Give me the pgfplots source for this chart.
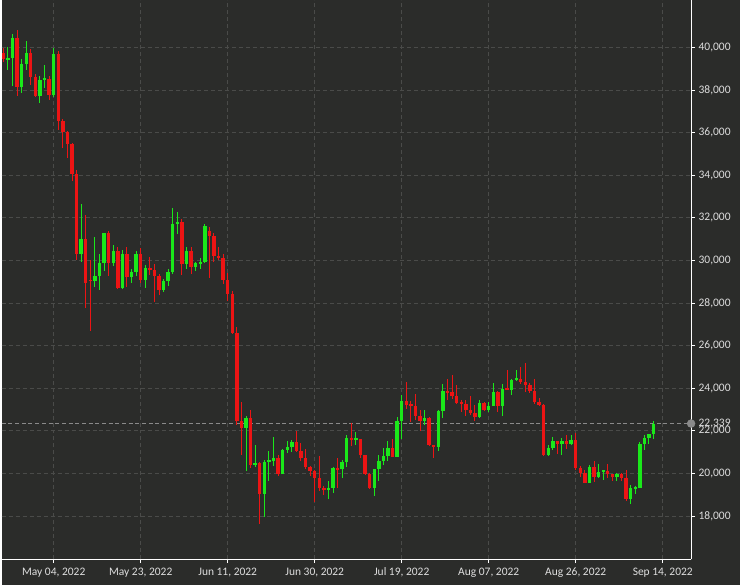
\documentclass[border=0pt]{standalone}
\usepackage{pgfplots}
\pgfplotsset{compat=1.18}
\usepackage{pgfplotstable}
\usetikzlibrary{backgrounds,calc}
\usepackage{fontspec}
\setmainfont{Carlito}
\definecolor{bg}{RGB}{43,44,42}
\definecolor{grd}{RGB}{74,75,73}
\definecolor{up}{RGB}{26,232,26}
\definecolor{dn}{RGB}{236,20,20}
\definecolor{lbl}{RGB}{222,222,222}
\definecolor{cur}{RGB}{138,138,138}

\pgfplotstableread{
i o h l c
0 39740 39980 39310 39450
1 39450 40010 38950 39480
2 39480 40620 38200 40430
3 40430 40800 37700 38120
4 38120 39450 37880 39240
5 39240 40320 38940 39740
6 39740 39900 38210 38600
7 38600 38750 37650 37710
8 37710 38650 37400 38470
9 38470 39150 38080 38530
10 38530 38640 37550 37750
11 37750 39970 37680 39690
12 39690 39850 36100 36550
13 36550 36620 35260 36010
14 36010 36080 34790 35470
15 35470 35490 33720 34060
16 34060 34240 30030 30300
17 30300 32650 29920 31020
18 31020 32150 27780 28940
19 29080 30030 26700 29030
20 29030 31080 28750 29280
21 29280 30300 28630 29860
22 29860 31300 29490 31300
23 31300 31400 29250 29860
24 29860 30720 29740 30420
25 30420 30620 28650 28720
26 28720 30490 28650 30290
27 30290 30620 28730 29200
28 29200 29590 28950 29430
29 29430 30420 29260 30320
30 30320 30590 28960 29100
31 29100 29760 28680 29650
32 29650 30150 29310 29560
33 29560 29820 28040 29270
34 29270 29380 28380 28630
35 28630 29130 28520 29030
36 29030 29580 28810 29470
37 29470 32450 29360 31720
38 31720 32250 31240 31790
39 31790 31950 29330 29850
40 29850 30620 29600 30450
41 30450 30640 29380 29700
42 29700 29940 29520 29860
43 29860 30130 29590 29910
44 29910 31690 29890 31600
45 31400 31550 29160 31130
46 31130 31300 29940 30210
47 30210 30650 30000 30110
48 30110 30320 28890 29090
49 29090 29420 28100 28420
50 28420 28540 26560 26570
51 26570 26860 22290 22480
52 22480 23330 20850 22150
53 22150 22700 20100 22600
54 22600 22960 20230 20380
55 20380 21320 20290 20470
56 20470 20520 17620 19020
57 19020 20610 17960 20550
58 20550 21040 19640 20590
59 20590 21690 20330 20710
60 20710 20880 19880 19990
61 19990 21160 19950 21090
62 21090 21510 20960 21230
63 21230 21580 20990 21480
64 21480 21980 21000 21030
65 21030 21440 20560 20730
66 20730 21140 20210 20280
67 20280 20340 19880 20100
68 20100 20140 18670 19780
69 19780 20820 19170 19300
70 19300 19400 18980 19250
71 19250 19650 18780 19300
72 19300 20300 19060 20230
73 20230 20700 19320 20190
74 20190 20640 19790 20550
75 20550 21810 20280 21640
76 21640 22380 21300 21590
77 21590 21940 21350 21600
78 21600 21620 20710 20860
79 20860 20860 19930 19970
80 19970 20000 19260 19330
81 19330 20220 18920 20210
82 20210 20850 19640 20570
83 20570 21170 20400 20830
84 20830 21520 20580 21190
85 21190 21620 20760 20780
86 20780 22640 20770 22470
87 22470 23690 21630 23390
88 23390 24270 23010 23230
89 23230 23380 22390 23160
90 23160 23740 22520 22680
91 22680 22980 21990 22450
92 22450 22980 22290 22580
93 22580 22650 21270 21310
94 21310 21320 20720 21250
95 21250 22980 21070 22950
96 22950 24180 22590 23850
97 23850 24440 23430 23800
98 23800 24610 23510 23650
99 23650 24170 23270 23300
100 23300 23460 22870 23270
101 23270 23440 22680 22990
102 22990 23630 22720 22820
103 22820 23200 22450 22630
104 22630 23430 22600 23290
105 23290 23330 22920 22960
106 22960 23330 22870 23180
107 23180 24230 23170 23810
108 23810 23880 22880 23160
109 23160 24180 22700 23950
110 23950 24850 23900 23930
111 23930 24430 23660 24400
112 24400 24860 24320 24440
113 24440 25010 24200 24310
114 24310 25200 23800 24140
115 24140 24250 23750 23860
116 23860 24420 23250 23340
117 23340 23560 23180 23210
118 23210 23240 20800 20880
119 20880 21350 20810 21170
120 21170 21690 21080 21530
121 21530 21540 20900 21400
122 21400 21660 20880 21530
123 21530 21800 21160 21400
124 21400 21790 21330 21560
125 21560 21880 20160 20260
126 20260 20330 19850 20040
127 20040 20140 19540 19550
128 19550 20380 19540 20280
129 20280 20560 19580 19820
130 19820 20460 19800 20050
131 20050 20180 19670 20130
132 20130 20420 19790 19950
133 19950 19990 19640 19830
134 19830 20000 19620 19990
135 19990 20030 19640 19800
136 19800 20160 18720 18790
137 18790 19440 18560 19290
138 19290 19420 19030 19320
139 19320 21460 19300 21360
140 21360 21790 21100 21650
141 21650 21840 21370 21830
142 21830 22480 21600 22339
}\btc

\begin{document}
\begin{tikzpicture}
\begin{axis}[
  scale only axis, width=691pt, height=560pt,
  xmin=-0.35, xmax=150.2, ymin=15970, ymax=42200,
  axis x line*=bottom, axis y line*=right,
  axis line style={white, line width=1pt, -},
  xtick={11,30,49,68,87,106,125,144},
  xticklabels={{May 04, 2022},{May 23, 2022},{Jun 11, 2022},{Jun 30, 2022},{Jul 19, 2022},{Aug 07, 2022},{Aug 26, 2022},{Sep 14, 2022}},
  ytick={18000,20000,...,40000},
  extra y ticks={22339},
  extra y tick style={major grid style={draw=cur, dash pattern=on 4pt off 2.7pt, line width=0.9pt},
     major tick length=0pt, yticklabel style={xshift=4pt}},
  grid=major,
  major grid style={draw=grd, dash pattern=on 4pt off 3pt, line width=0.8pt},
  tick style={draw=white, line width=0.8pt},
  tick align=outside, major tick length=4pt,
  ticklabel style={font=\fontsize{11.5}{13}\selectfont, text=lbl},
  xticklabel style={yshift=-1pt},
  scaled y ticks=false,
  yticklabel style={/pgf/number format/1000 sep={,}, /pgf/number format/assume math mode=true},
  clip=false,
]
% wicks
\addplot[draw=none, mark=none, forget plot,
  error bars/.cd, y dir=both, y explicit, error mark=none,
  error bar style={draw=up, line width=1pt}]
  table[x=i, y expr={\thisrow{c}>=\thisrow{o} ? 0.5*(\thisrow{h}+\thisrow{l}) : nan},
        y error expr={0.5*(\thisrow{h}-\thisrow{l})}] {\btc};
\addplot[draw=none, mark=none, forget plot,
  error bars/.cd, y dir=both, y explicit, error mark=none,
  error bar style={draw=dn, line width=1pt}]
  table[x=i, y expr={\thisrow{c}<\thisrow{o} ? 0.5*(\thisrow{h}+\thisrow{l}) : nan},
        y error expr={0.5*(\thisrow{h}-\thisrow{l})}] {\btc};
% bodies
\addplot[draw=none, mark=none, forget plot,
  error bars/.cd, y dir=both, y explicit, error mark=none,
  error bar style={draw=up, line width=3.4pt}]
  table[x=i, y expr={\thisrow{c}>=\thisrow{o} ? 0.5*(\thisrow{o}+\thisrow{c}) : nan},
        y error expr={max(0.5*abs(\thisrow{c}-\thisrow{o}),45)}] {\btc};
\addplot[draw=none, mark=none, forget plot,
  error bars/.cd, y dir=both, y explicit, error mark=none,
  error bar style={draw=dn, line width=3.4pt}]
  table[x=i, y expr={\thisrow{c}<\thisrow{o} ? 0.5*(\thisrow{o}+\thisrow{c}) : nan},
        y error expr={max(0.5*abs(\thisrow{c}-\thisrow{o}),45)}] {\btc};
% current price marker
\addplot[only marks, mark=*, mark size=4pt, mark options={fill=cur, draw=cur}, forget plot]
  coordinates {(150.2,22339)};
\coordinate (bl) at (rel axis cs:0,0);
\coordinate (tr) at (rel axis cs:1,1);
\end{axis}
\begin{scope}[on background layer]
\fill[bg] ($(bl)+(0,-26pt)$) rectangle ($(tr)+(49pt,0)$);
\end{scope}
\useasboundingbox ($(bl)+(0,-26pt)$) rectangle ($(tr)+(49pt,0)$);
\end{tikzpicture}
\end{document}
